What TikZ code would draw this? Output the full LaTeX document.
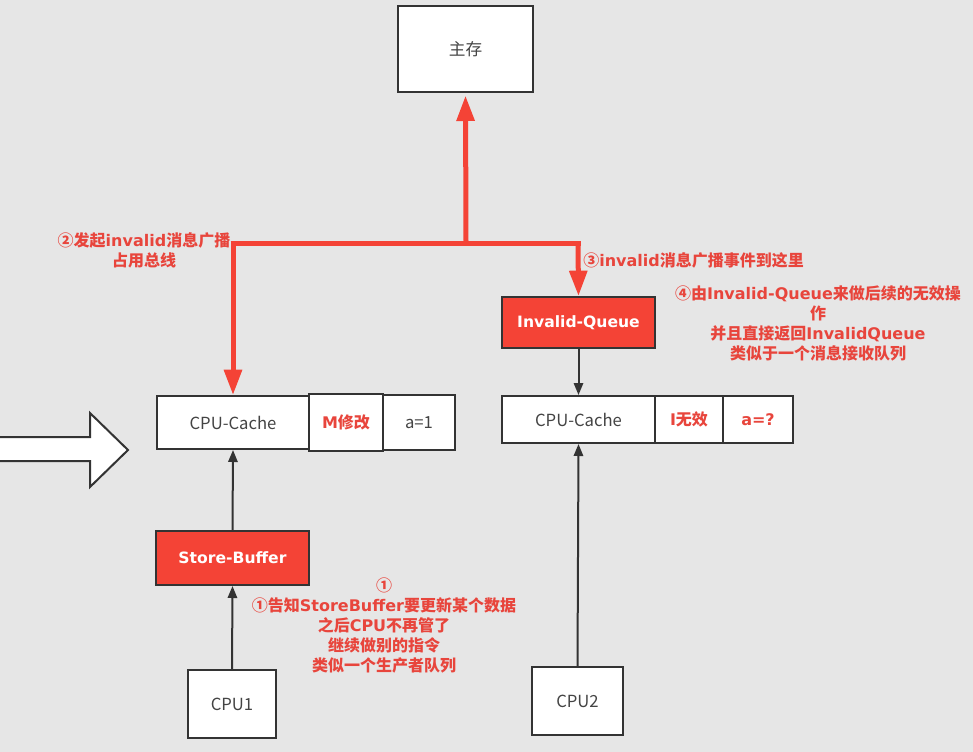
\documentclass[tikz,border=0pt]{standalone}
\usepackage{fontspec}
\setmainfont{Noto Sans CJK SC}
\newfontfamily\lat{DejaVu Sans}
\newcommand\La[1]{{\lat #1}}
\usetikzlibrary{arrows.meta}
\definecolor{bg}{HTML}{E6E6E6}
\definecolor{redc}{HTML}{F44336}
\definecolor{redt}{HTML}{E8453C}
\definecolor{edge}{HTML}{333333}
\definecolor{txt}{HTML}{444444}
\tikzset{
  box/.style={draw=edge, line width=1.5pt, fill=white, text=txt, font=\fontsize{12.5}{14}\selectfont, inner sep=0pt},
  redbox/.style={draw=edge, line width=1.5pt, fill=redc, text=white, font=\lat\bfseries\fontsize{11.7}{13}\selectfont, inner sep=0pt},
  redtxt/.style={text=redt, font=\bfseries\fontsize{12}{14}\selectfont},
  arr/.style={draw=edge, line width=1.5pt, -{Triangle[length=9pt,width=7pt]}},
  bus/.style={draw=redc, line width=3.75pt},
  busarr/.style={bus, -{Triangle[length=19pt,width=13pt]}},
  lbl/.style={text=redt, font=\bfseries\fontsize{12}{15}\selectfont, align=center, inner sep=0pt},
}
\begin{document}
\begin{tikzpicture}[x=0.75pt,y=-0.75pt]
\fill[bg] (0,0) rectangle (973,752);
\useasboundingbox (0,0) rectangle (973,752);
% nodes
\node[box, minimum width=101.25pt, minimum height=64.5pt] (main) at (465.5,49) {主存};
\node[redbox, minimum width=114.75pt, minimum height=38.25pt] (iq) at (578.5,322.5) {Invalid-Queue};
\node[box, minimum width=114pt, minimum height=39.75pt] (cacheL) at (233,422.5) {CPU-Cache};
\node[box, redtxt, minimum width=55.5pt, minimum height=42.75pt] (mL) at (346,422.5) {\La{M}修改};
\node[box, minimum width=54pt, minimum height=41.25pt] (aL) at (419,422.5) {a=1};
\node[box, minimum width=114.75pt, minimum height=35.25pt] (cacheR) at (578.5,419.5) {CPU-Cache};
\node[box, redtxt, minimum width=51pt, minimum height=35.25pt] (iR) at (689,419.5) {\La{I}无效};
\node[box, redtxt, minimum width=52.5pt, minimum height=35.25pt] (aR) at (758,419.5) {\La{a=?}};
\node[redbox, minimum width=114.75pt, minimum height=40.5pt] (sb) at (232.5,558) {Store-Buffer};
\node[box, minimum width=66pt, minimum height=51pt] (cpu1) at (232,704) {CPU1};
\node[box, minimum width=68.25pt, minimum height=51pt] (cpu2) at (577.5,701) {CPU2};
% bus
\coordinate (busL) at (233,243);
\coordinate (busM) at (466,243);
\coordinate (busR) at (578,243);
\draw[bus] ([xshift=-1.875pt]busL) -- ([xshift=1.875pt]busR);
\draw[busarr] (busM) -- ([yshift=-2pt]main.south);
\draw[busarr] (busL) -- (cacheL.north);
\draw[busarr] (busR) -- (iq.north);
% black arrows
\draw[arr] (iq.south) -- (cacheR.north);
\draw[arr] (cpu2.north) -- (cacheR.south);
\draw[arr] (sb.north) -- (cacheL.south);
\draw[arr] (cpu1.north) -- (sb.south);
% big arrow
\draw[draw=edge, line width=1.5pt, fill=white] (-5,437) -- (90,437) -- (90,413) -- (128,450) -- (90,487) -- (90,461) -- (-5,461) -- cycle;
% labels
\node[lbl] (l2) at (144,250) {②发起\La{invalid}消息广播\\占用总线};
\node[lbl, anchor=west] (l3) at (583,260) {③\La{invalid}消息广播事件到这里};
\node[lbl] (l4) at (818,323) {④由\La{Invalid-Queue}来做后续的无效操\\作\\并且直接返回\La{InvalidQueue}\\类似于一个消息接收队列};
\node[lbl] (l1) at (384,626) {①\\①告知\La{StoreBuffer}要更新某个数据\\之后\La{CPU}不再管了\\继续做别的指令\\类似一个生产者队列};
\end{tikzpicture}
\end{document}
